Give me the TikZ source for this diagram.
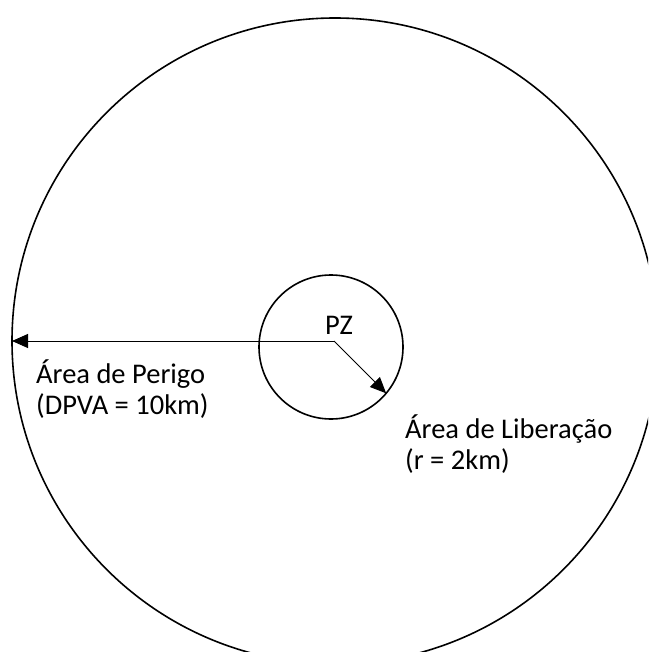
\documentclass[tikz,border=0pt]{standalone}
\usepackage{fontspec}
\setmainfont{Carlito}
\usetikzlibrary{arrows.meta}

\begin{document}
\begin{tikzpicture}[x=1pt, y=-1pt]
        \clip (0,0) rectangle (648,652);
        \tikzset{
            zone/.style={draw, circle, line width=1.6pt, inner sep=0pt, outer sep=0pt},
            radius arrow/.style={line width=0.9pt, -{Triangle[length=16pt, width=14pt]}},
            zone label/.style={anchor=base west, align=left, inner sep=0pt, font=\fontsize{28.5}{31}\selectfont}
        }
        
        % Danger area
        \node[zone, minimum size=646pt] (perigo) at (335,341) {};
        % Release area
        \node[zone, minimum size=144pt] (liberacao) at (331,347) {};
        
        % Point
        \coordinate (pz) at (334,341);
        \node[anchor=base, inner sep=0pt, font=\fontsize{28.5}{31}\selectfont] (pzlabel) at (339,334) {PZ};
        
        % Radii
        \draw[radius arrow] (pz) -- (perigo.west);
        \draw[radius arrow] (pz) -- (liberacao.-40);
        
        % Labels (base = last line)
        \node[zone label] (perigolabel) at (36,414) {Área de Perigo\\(DPVA = 10km)};
        \node[zone label] (liberacaolabel) at (405,469) {Área de Liberação\\(r = 2km)};
    \end{tikzpicture}
\end{document}
